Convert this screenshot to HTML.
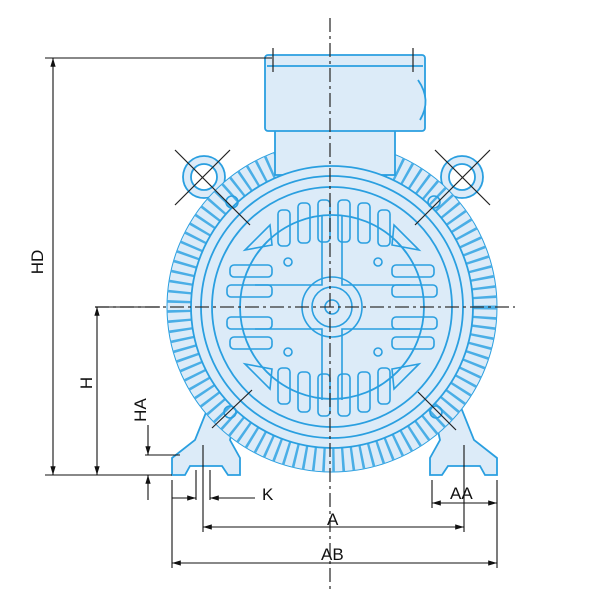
<!DOCTYPE html>
<html><head><style>body{margin:0;background:#fff}svg{display:block}</style></head><body>
<svg width="600" height="600" viewBox="0 0 600 600" xmlns="http://www.w3.org/2000/svg">
<defs>
<marker id="ar" viewBox="0 0 10 10" refX="10" refY="5" markerWidth="8" markerHeight="8" orient="auto-start-reverse"><path d="M0,2 L10,5 L0,8 z" fill="#111"/></marker>
</defs>
<g stroke="#2a9fe0" stroke-width="1.8" fill="#dcebf8">
<path d="M172,475 L172,458 L195,440 L215,390 L240,395 L230,440 L240,458 L240,475 L228,475 L222,466 L190,466 L185,475 Z"/>
<path d="M497,475 L497,458 L474,440 L454,390 L430,395 L440,440 L430,458 L430,475 L442,475 L448,466 L480,466 L485,475 Z"/>
<circle cx="204" cy="177" r="21"/><circle cx="204" cy="177" r="13" fill="#fff"/>
<circle cx="462" cy="177" r="21"/><circle cx="462" cy="177" r="13" fill="#fff"/>
<circle cx="332" cy="307" r="165" stroke-width="1"/>
<circle cx="332" cy="307" r="153" stroke-width="24" stroke-dasharray="2.5 7" fill="none" stroke="#4aaee6"/>
<rect x="275" y="125" width="120" height="50"/>
<rect x="265" y="55" width="160" height="76" rx="3"/>
<line x1="267" y1="66" x2="423" y2="66"/>
<path d="M418,80 Q432,100 420,120" fill="#dcebf8"/>
<circle cx="332" cy="307" r="141"/>
<circle cx="332" cy="307" r="131" fill="none"/>
<circle cx="332" cy="307" r="120" fill="none"/>
<circle cx="332" cy="307" r="92" fill="none"/>
<g fill="none" stroke-width="1.6">
<rect x="298" y="203" width="12" height="40" rx="4"/><rect x="318" y="200" width="12" height="42" rx="4"/><rect x="338" y="200" width="12" height="42" rx="4"/><rect x="358" y="203" width="12" height="40" rx="4"/><rect x="278" y="210" width="12" height="36" rx="4"/><rect x="378" y="210" width="12" height="36" rx="4"/>
<rect x="298" y="372" width="12" height="40" rx="4"/><rect x="318" y="374" width="12" height="42" rx="4"/><rect x="338" y="374" width="12" height="42" rx="4"/><rect x="358" y="372" width="12" height="40" rx="4"/><rect x="278" y="368" width="12" height="36" rx="4"/><rect x="378" y="368" width="12" height="36" rx="4"/>
<rect x="230" y="265" width="42" height="12" rx="4"/><rect x="227" y="285" width="45" height="12" rx="4"/><rect x="227" y="317" width="45" height="12" rx="4"/><rect x="230" y="337" width="42" height="12" rx="4"/>
<rect x="392" y="265" width="42" height="12" rx="4"/><rect x="392" y="285" width="45" height="12" rx="4"/><rect x="392" y="317" width="45" height="12" rx="4"/><rect x="392" y="337" width="42" height="12" rx="4"/>
<path d="M245,250 L270,225 L272,245 Z"/><path d="M419,250 L394,225 L392,245 Z"/>
<path d="M245,364 L270,389 L272,369 Z"/><path d="M419,364 L394,389 L392,369 Z"/>
<path d="M322,215 L322,285 L255,285 M342,215 L342,285 L410,285 M322,400 L322,329 L255,329 M342,400 L342,329 L410,329"/>
<circle cx="288" cy="262" r="4"/><circle cx="378" cy="262" r="4"/><circle cx="288" cy="352" r="4"/><circle cx="378" cy="352" r="4"/>
<circle cx="232" cy="202" r="6"/><circle cx="434" cy="202" r="6"/><circle cx="230" cy="412" r="6"/><circle cx="436" cy="412" r="6"/>
<circle cx="332" cy="307" r="30"/><circle cx="332" cy="307" r="20"/><circle cx="332" cy="307" r="7"/>
</g>
</g>
<g stroke="#333" stroke-width="1.3" fill="none" stroke-dasharray="14 4 3 4">
<line x1="330" y1="18" x2="330" y2="590"/>
<line x1="95" y1="307" x2="515" y2="307"/>
</g>
<g stroke="#222" stroke-width="1.2">
<line x1="175" y1="150" x2="250" y2="225"/><line x1="230" y1="150" x2="175" y2="205"/>
<line x1="490" y1="150" x2="415" y2="225"/><line x1="435" y1="150" x2="490" y2="205"/>
<line x1="212" y1="428" x2="252" y2="390"/><line x1="418" y1="392" x2="456" y2="430"/>
<line x1="273" y1="48" x2="273" y2="72"/><line x1="413" y1="48" x2="413" y2="72"/>
</g>
<g stroke="#111" stroke-width="1.1" fill="none">
<line x1="45" y1="58" x2="272" y2="58"/><line x1="45" y1="475" x2="172" y2="475"/>
<line x1="53" y1="58" x2="53" y2="475" marker-start="url(#ar)" marker-end="url(#ar)"/>
<line x1="95" y1="307" x2="160" y2="307"/>
<line x1="97" y1="307" x2="97" y2="475" marker-start="url(#ar)" marker-end="url(#ar)"/>
<line x1="145" y1="455" x2="180" y2="455"/>
<line x1="148" y1="425" x2="148" y2="455" marker-end="url(#ar)"/>
<line x1="148" y1="500" x2="148" y2="475" marker-end="url(#ar)"/>
<line x1="172" y1="480" x2="172" y2="568"/><line x1="497" y1="480" x2="497" y2="568"/>
<line x1="203" y1="445" x2="203" y2="532"/><line x1="464" y1="445" x2="464" y2="532"/>
<line x1="196" y1="470" x2="196" y2="500"/><line x1="210" y1="470" x2="210" y2="500"/>
<line x1="432" y1="480" x2="432" y2="508"/>
<line x1="172" y1="498" x2="196" y2="498" marker-end="url(#ar)"/>
<line x1="255" y1="498" x2="210" y2="498" marker-end="url(#ar)"/>
<line x1="432" y1="503" x2="497" y2="503" marker-start="url(#ar)" marker-end="url(#ar)"/>
<line x1="203" y1="527" x2="464" y2="527" marker-start="url(#ar)" marker-end="url(#ar)"/>
<line x1="172" y1="563" x2="497" y2="563" marker-start="url(#ar)" marker-end="url(#ar)"/>
</g>
<g font-family="Liberation Sans, sans-serif" font-size="17" fill="#111">
<text x="262" y="500">K</text>
<text x="450" y="499">AA</text>
<text x="327" y="525">A</text>
<text x="321" y="560">AB</text>
<text transform="translate(43,262) rotate(-90)" text-anchor="middle">HD</text>
<text transform="translate(92,383) rotate(-90)" text-anchor="middle">H</text>
<text transform="translate(146,410) rotate(-90)" text-anchor="middle">HA</text>
</g>
</svg>
</body></html>
